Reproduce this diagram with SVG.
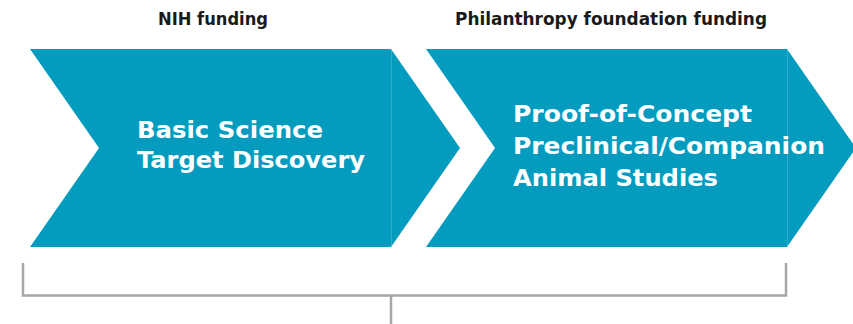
<svg xmlns="http://www.w3.org/2000/svg" width="853" height="324" viewBox="0 0 853 324">
  <style>
    .chev { fill: #039cbf; }
    .seam { stroke: #ffffff; stroke-opacity: 0.18; stroke-width: 1; }
    .label { font-family: "DejaVu Sans", "Liberation Sans", sans-serif; font-weight: bold; fill: #ffffff; font-size: 22.5px; }
    .head { font-family: "DejaVu Sans", "Liberation Sans", sans-serif; font-weight: bold; fill: #1a1a1a; font-size: 17px; }
    .bracket { fill: none; stroke: #a6a6a6; stroke-width: 2.5; }
  </style>
  <rect width="853" height="324" fill="#ffffff"/>
  <g id="heading-nih">
    <text class="head" x="158" y="25" textLength="110" lengthAdjust="spacingAndGlyphs">NIH funding</text>
  </g>
  <g id="heading-philanthropy">
    <text class="head" x="455" y="25" textLength="312" lengthAdjust="spacingAndGlyphs">Philanthropy foundation funding</text>
  </g>
  <g id="node-basic-science">
    <polygon class="chev" points="30,49 391,49 460,148 391,247 30,247 99,148"/>
    <line class="seam" x1="391.5" y1="49" x2="391.5" y2="247"/>
    <text class="label" x="137" y="137.5" textLength="186" lengthAdjust="spacingAndGlyphs">Basic Science</text>
    <text class="label" x="137" y="168" textLength="228" lengthAdjust="spacingAndGlyphs">Target Discovery</text>
  </g>
  <g id="node-proof-of-concept">
    <polygon class="chev" points="426,49 787,49 856,148 787,247 426,247 495,148"/>
    <line class="seam" x1="787.5" y1="49" x2="787.5" y2="247"/>
    <text class="label" x="513" y="122" textLength="239" lengthAdjust="spacingAndGlyphs">Proof-of-Concept</text>
    <text class="label" x="513" y="154" textLength="312" lengthAdjust="spacingAndGlyphs">Preclinical/Companion</text>
    <text class="label" x="513" y="186" textLength="205" lengthAdjust="spacingAndGlyphs">Animal Studies</text>
  </g>
  <g id="connectors">
    <polyline class="bracket" points="23,263 23,295.5 786,295.5 786,263"/>
    <line class="bracket" x1="391" y1="295.5" x2="391" y2="324"/>
  </g>
</svg>
